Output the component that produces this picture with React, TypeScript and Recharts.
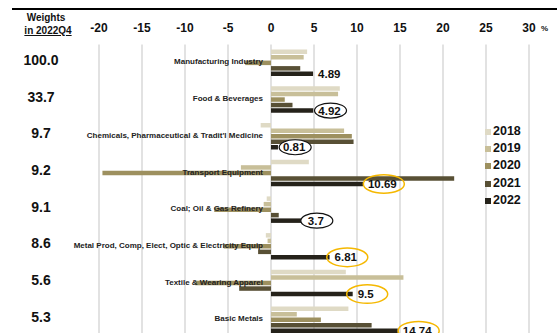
import { BarChart, Bar, XAxis, YAxis, CartesianGrid, Legend, LabelList } from 'recharts'

const categories = [
  'Manufacturing Industry',
  'Food & Beverages',
  "Chemicals, Pharmaceutical & Tradit'l Medicine",
  'Transport Equipment',
  'Coal; Oil & Gas Refinery',
  'Metal Prod, Comp, Elect, Optic & Electricity Equip',
  'Textile & Wearing Apparel',
  'Basic Metals'
]
const weights = ['100.0', '33.7', '9.7', '9.2', '9.1', '8.6', '5.6', '5.3']

const years = ['2018', '2019', '2020', '2021', '2022']
const growth2018 = [4.2, 8.0, -1.2, 4.4, -0.5, -0.6, 8.7, 9.0]
const growth2019 = [3.8, 7.8, 8.5, -3.5, -0.85, -0.4, 15.4, 3.0]
const growth2020 = [-3.0, 1.6, 9.4, -19.6, -6.6, -5.5, -8.8, 5.8]
const growth2021 = [3.4, 2.5, 9.6, 21.3, 0.9, -1.5, -3.7, 11.7]
const growth2022 = [4.89, 4.92, 0.81, 10.69, 3.7, 6.81, 9.5, 14.74]

const xTicks = [-20, -15, -10, -5, 0, 5, 10, 15, 20, 25, 30]

const colors = ['#dfdac5', '#c8bf99', '#9d905f', '#585035', '#25221a']
const FONT = '"Liberation Sans", Arial, sans-serif'

const data = categories.map((name, i) => ({
  name,
  y2018: growth2018[i],
  y2019: growth2019[i],
  y2020: growth2020[i],
  y2021: growth2021[i],
  y2022: growth2022[i]
}))

const XTick = ({ x, payload }: any) => (
  <g>
    <text x={x} y={32} textAnchor='middle' fontFamily={FONT} fontWeight='bold' fontSize={12} fill='#111'>
      {payload.value}
    </text>
    {payload.value === 30 && (
      <text x={x + 12} y={31} fontFamily={FONT} fontWeight='bold' fontSize={8} fill='#111'>%</text>
    )}
  </g>
)

const YTick = ({ y, payload, index }: any) => (
  <g>
    <text x={41} y={y - 3} textAnchor='middle' dominantBaseline='central' fontFamily={FONT} fontWeight='bold' fontSize={14} fill='#111'>
      {weights[index]}
    </text>
    <text x={263} y={y - 1} textAnchor='end' dominantBaseline='central' fontFamily={FONT} fontWeight='bold' fontSize={8} fill='#222'>
      {payload.value}
    </text>
  </g>
)

// 2022 value, circled in black or orange
const ValueLabel = ({ x, y, width, height, value, index }: any) => {
  const end = x + width
  const cy = y + height / 2
  const digits = String(value).replace('.', '').length
  const textW = digits * 6.4 + 3.2
  const cx = end + 5 + textW / 2
  const ring = index === 0 ? null : value >= 5 ? 'orange' : 'black'
  return (
    <g>
      {ring === 'black' && <ellipse cx={cx + 1} cy={cy} rx={16} ry={7.5} fill='#fff' stroke='#111' strokeWidth={1.2} />}
      {ring === 'orange' && <ellipse cx={cx + 1.5} cy={cy} rx={20.5} ry={9.3} fill='none' stroke='#f5b800' strokeWidth={1.5} />}
      <text x={end + 5} y={cy} dominantBaseline='central' fontFamily={FONT} fontWeight='bold' fontSize={11.5} fill='#111'>
        {value}
      </text>
    </g>
  )
}

const LegendBox = ({ payload }: any) => (
  <div style={{ fontFamily: FONT }}>
    {payload.map((p: any) => (
      <div key={p.value} style={{ display: 'flex', alignItems: 'center', height: 17.3 }}>
        <span style={{ display: 'inline-block', width: 5.5, height: 6, background: p.color, marginRight: 2.5, marginTop: 2 }} />
        <span style={{ fontSize: 12.5, fontWeight: 'bold', color: '#111' }}>{p.value}</span>
      </div>
    ))}
  </div>
)

export default function App () {
  return (
    <div style={{ position: 'fixed', left: 0, top: 0, width: 557, height: 333, overflow: 'hidden', background: '#fff' }}>
      <div style={{ position: 'absolute', left: 12, right: 0, top: 7.5, height: 2.5, background: '#000' }} />
      <div style={{ position: 'absolute', left: 16, top: 11, width: 60, textAlign: 'center', fontFamily: FONT, fontWeight: 'bold', fontSize: 10, color: '#111', lineHeight: '13px' }}>
        <div>Weights</div>
        <div style={{ textDecoration: 'underline', marginLeft: 4 }}>in 2022Q4</div>
      </div>
      <BarChart
        width={557}
        height={345}
        data={data}
        layout='vertical'
        margin={{ top: 14.6, right: 28, bottom: 6.8, left: 0 }}
        barSize={4.5}
        barGap={1}
      >
        <CartesianGrid horizontal={false} stroke='#d9d9d9' strokeWidth={1.5} />
        <XAxis
          type='number'
          orientation='top'
          domain={[-20, 30]}
          ticks={xTicks}
          height={30}
          axisLine={false}
          tickLine={false}
          tick={<XTick />}
          interval={0}
        />
        <YAxis
          type='category'
          dataKey='name'
          width={99}
          axisLine={false}
          tickLine={false}
          tick={<YTick />}
          interval={0}
        />
        <Legend
          layout='vertical'
          verticalAlign='middle'
          align='center'
          content={<LegendBox />}
          wrapperStyle={{ position: 'absolute', left: 485, top: 122, width: 60 }}
        />
        {years.map((yr, i) => (
          <Bar key={yr} dataKey={'y' + yr} name={yr} fill={colors[i]} isAnimationActive={false}>
            {yr === '2022' && <LabelList dataKey='y2022' content={<ValueLabel />} />}
          </Bar>
        ))}
      </BarChart>
    </div>
  )
}
